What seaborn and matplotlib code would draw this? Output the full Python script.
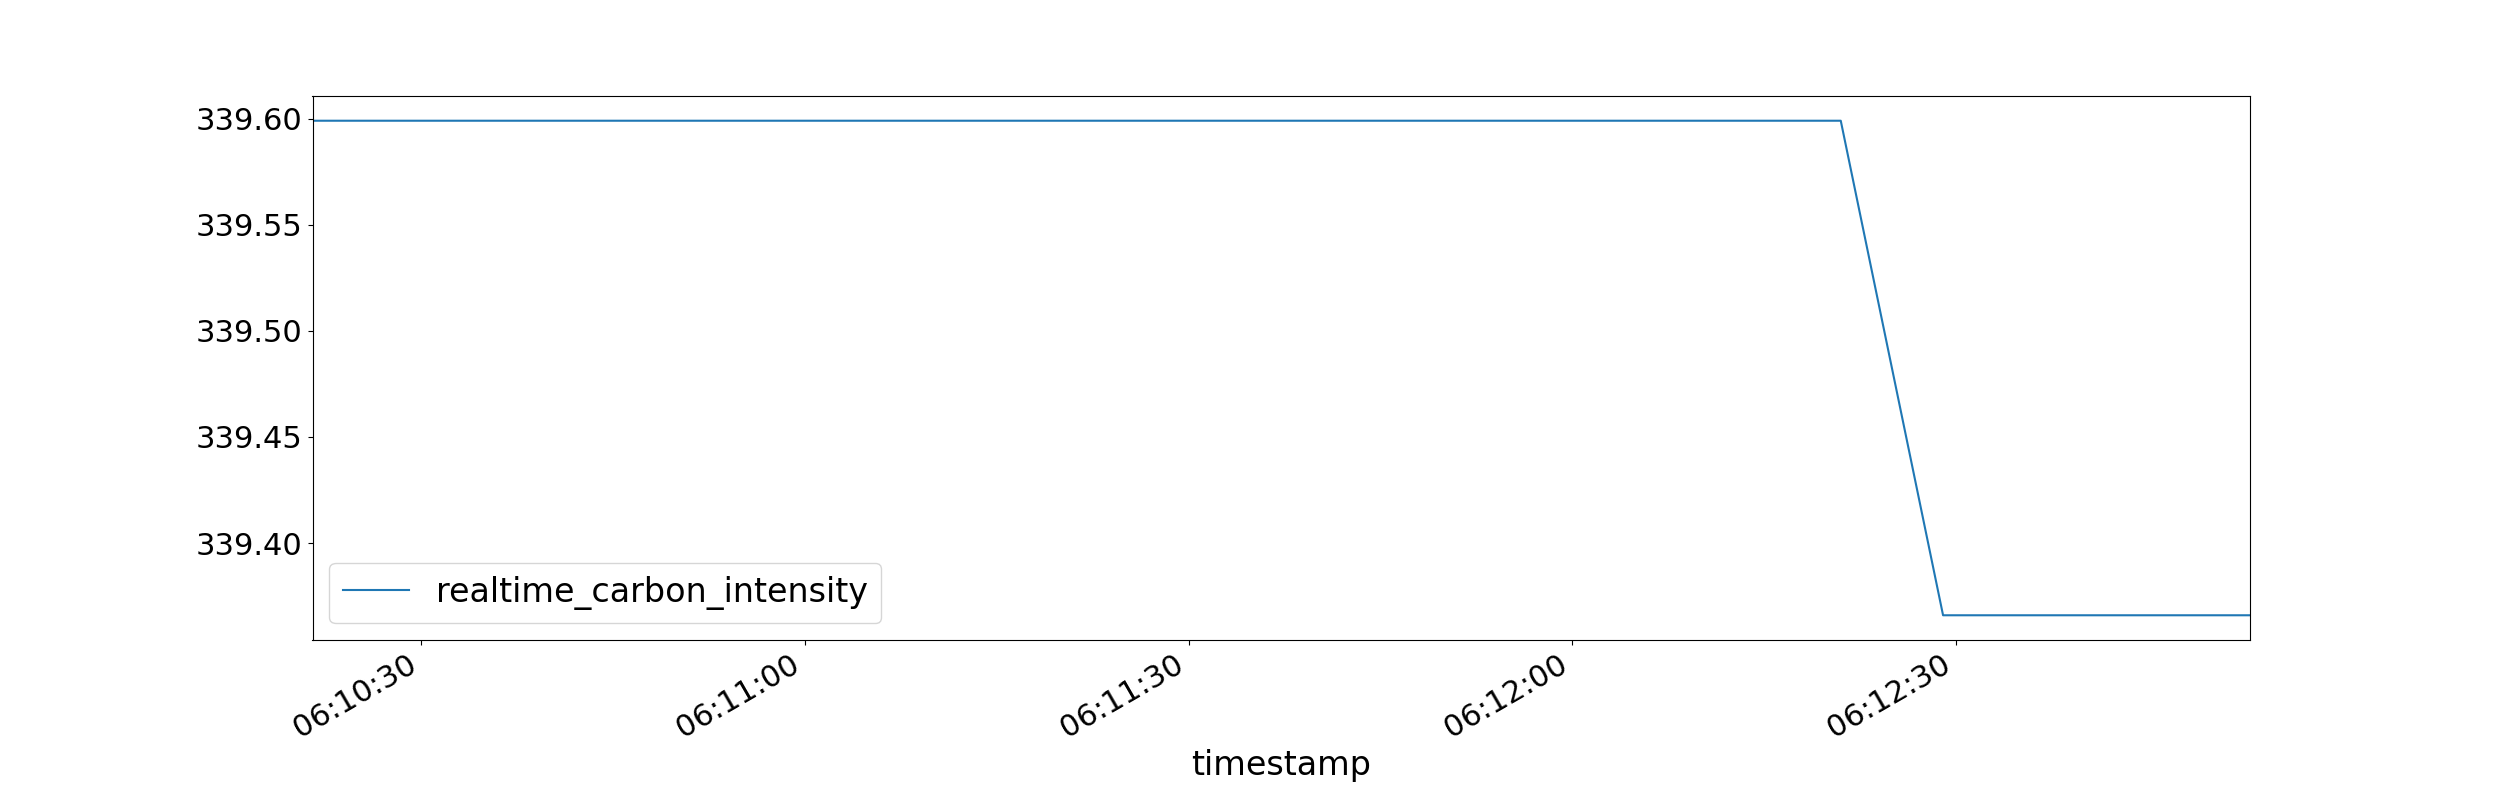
import pandas as pd
import matplotlib
matplotlib.use("Agg")
import matplotlib.pyplot as plt
import matplotlib.dates as mdates
import seaborn as sns

# data
timestamps = ["2023-01-01 06:10:21.5", "2023-01-01 06:10:53.0", "2023-01-01 06:11:25.0",
              "2023-01-01 06:11:57.0", "2023-01-01 06:12:21.0", "2023-01-01 06:12:29.0",
              "2023-01-01 06:12:41.0", "2023-01-01 06:12:53.0"]
intensity = [339.599, 339.599, 339.599, 339.599, 339.599, 339.366, 339.366, 339.366]

df = pd.DataFrame({"timestamp": pd.to_datetime(timestamps, format="ISO8601"),
                   "realtime_carbon_intensity": intensity})

plt.rcParams['font.size'] = 24
plt.rcParams['xtick.labelsize'] = 22
plt.rcParams['ytick.labelsize'] = 22

fig, ax = plt.subplots(figsize=(25, 8), dpi=100)
sns.lineplot(x="timestamp", y="realtime_carbon_intensity", data=df, ax=ax,
             label="realtime_carbon_intensity", color="#1f77b4", linewidth=1.5)

ax.set_xlim(df["timestamp"].min(), df["timestamp"].max())
ax.xaxis.set_major_locator(mdates.SecondLocator(bysecond=[0, 30]))
ax.xaxis.set_major_formatter(mdates.DateFormatter("%H:%M:%S"))
ax.set_xlabel("timestamp", fontsize=24)
ax.set_ylabel("")
ax.legend(loc="lower left", fontsize=24)
fig.autofmt_xdate()

plt.savefig("out.png")
